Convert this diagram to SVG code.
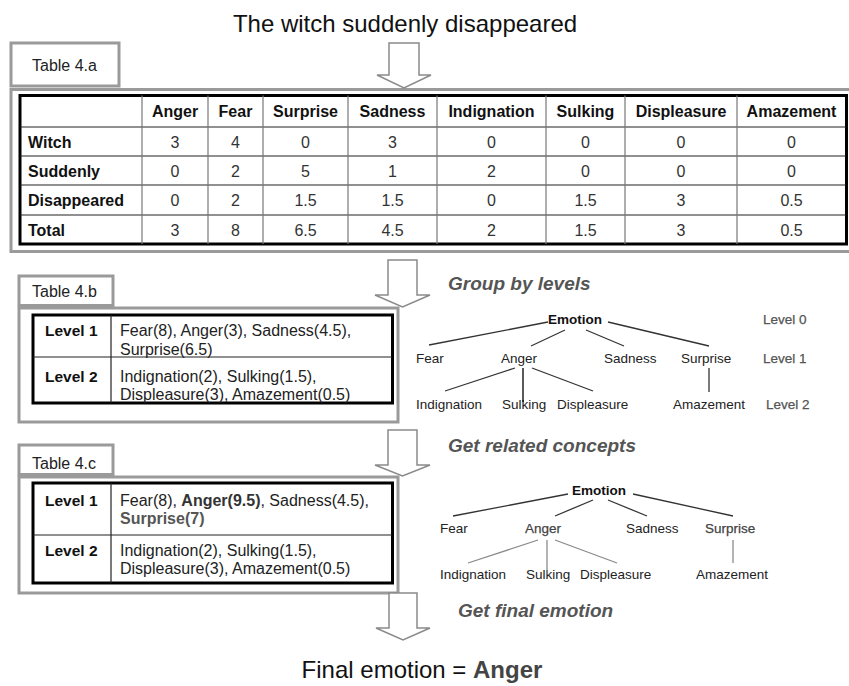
<svg xmlns="http://www.w3.org/2000/svg" width="849" height="686" viewBox="0 0 849 686">
  <style>
    text { font-family: "Liberation Sans", Arial, sans-serif; }
    .title { font-size: 24px; fill: #111; }
    .tab { fill: #fff; stroke: #9a9a9a; stroke-width: 3; }
    .frame { fill: #fff; stroke: #9a9a9a; stroke-width: 3; }
    .tbl { fill: none; stroke: #000; stroke-width: 3; }
    .hline { stroke: #222; stroke-width: 1.2; }
    .vline { stroke: #777; stroke-width: 1.2; }
    .tabtxt { font-size: 16px; fill: #222; }
    .hd { font-size: 16px; font-weight: bold; fill: #111; text-anchor: middle; }
    .rl { font-size: 16px; font-weight: bold; fill: #111; }
    .num { font-size: 16px; fill: #333; text-anchor: middle; }
    .lvl { font-size: 15.5px; font-weight: bold; fill: #111; }
    .cell { font-size: 16px; fill: #222; }
    .hot { font-weight: bold; fill: #333; }
    .hot2 { font-weight: bold; fill: #555; }
    .step { font-size: 19px; font-weight: bold; font-style: italic; fill: #555; }
    .node { font-size: 13.5px; fill: #222; }
    .node-hl { font-size: 13.5px; fill: #444; stroke: #444; stroke-width: 0.25; }
    .root { font-size: 13.5px; font-weight: bold; fill: #111; }
    .lvlname { font-size: 13.5px; fill: #555; stroke: #555; stroke-width: 0.25; }
    .arrow { fill: #fff; stroke: #8a8a8a; stroke-width: 1.5; stroke-linejoin: miter; }
    .edge { stroke: #333; stroke-width: 1.3; }
    .edge-dk { stroke: #000; stroke-width: 1.3; }
    .edge-lt { stroke: #8a8a8a; stroke-width: 1.3; }
  </style>

  <!-- input sentence -->
  <g id="sentence">
    <text class="title" x="405" y="32" text-anchor="middle">The witch suddenly disappeared</text>
  </g>

  <!-- Table 4.a : per-word emotion scores -->
  <g id="table-4a">
    <rect class="tab" x="11" y="43" width="108" height="43"/>
    <text class="tabtxt" x="32" y="71">Table 4.a</text>
    <rect class="frame" x="11" y="89.5" width="845" height="162"/>
    <rect class="tbl" x="20" y="95.5" width="826.5" height="148.5"/>
    <g>
      <line class="hline" x1="20" y1="127" x2="846" y2="127"/>
      <line class="hline" x1="20" y1="156" x2="846" y2="156"/>
      <line class="hline" x1="20" y1="185" x2="846" y2="185"/>
      <line class="hline" x1="20" y1="215" x2="846" y2="215"/>
      <line class="vline" x1="142" y1="95.5" x2="142" y2="244"/>
      <line class="vline" x1="208" y1="95.5" x2="208" y2="244"/>
      <line class="vline" x1="263" y1="95.5" x2="263" y2="244"/>
      <line class="vline" x1="348" y1="95.5" x2="348" y2="244"/>
      <line class="vline" x1="437" y1="95.5" x2="437" y2="244"/>
      <line class="vline" x1="546" y1="95.5" x2="546" y2="244"/>
      <line class="vline" x1="625" y1="95.5" x2="625" y2="244"/>
      <line class="vline" x1="737" y1="95.5" x2="737" y2="244"/>
    </g>
    <g>
      <text class="hd" x="175" y="117">Anger</text>
      <text class="hd" x="235.5" y="117">Fear</text>
      <text class="hd" x="305.5" y="117">Surprise</text>
      <text class="hd" x="392.5" y="117">Sadness</text>
      <text class="hd" x="491.5" y="117">Indignation</text>
      <text class="hd" x="585.5" y="117">Sulking</text>
      <text class="hd" x="681" y="117">Displeasure</text>
      <text class="hd" x="791.5" y="117">Amazement</text>
    </g>
    <g>
      <text class="rl" x="28" y="147.5">Witch</text>
      <text class="rl" x="28" y="176.5">Suddenly</text>
      <text class="rl" x="28" y="206">Disappeared</text>
      <text class="rl" x="28" y="235.5">Total</text>
    </g>
    <g>
      <text class="num" x="175" y="147.5">3</text>
      <text class="num" x="235.5" y="147.5">4</text>
      <text class="num" x="305.5" y="147.5">0</text>
      <text class="num" x="392.5" y="147.5">3</text>
      <text class="num" x="491.5" y="147.5">0</text>
      <text class="num" x="585.5" y="147.5">0</text>
      <text class="num" x="681" y="147.5">0</text>
      <text class="num" x="791.5" y="147.5">0</text>

      <text class="num" x="175" y="176.5">0</text>
      <text class="num" x="235.5" y="176.5">2</text>
      <text class="num" x="305.5" y="176.5">5</text>
      <text class="num" x="392.5" y="176.5">1</text>
      <text class="num" x="491.5" y="176.5">2</text>
      <text class="num" x="585.5" y="176.5">0</text>
      <text class="num" x="681" y="176.5">0</text>
      <text class="num" x="791.5" y="176.5">0</text>

      <text class="num" x="175" y="206">0</text>
      <text class="num" x="235.5" y="206">2</text>
      <text class="num" x="305.5" y="206">1.5</text>
      <text class="num" x="392.5" y="206">1.5</text>
      <text class="num" x="491.5" y="206">0</text>
      <text class="num" x="585.5" y="206">1.5</text>
      <text class="num" x="681" y="206">3</text>
      <text class="num" x="791.5" y="206">0.5</text>

      <text class="num" x="175" y="235.5">3</text>
      <text class="num" x="235.5" y="235.5">8</text>
      <text class="num" x="305.5" y="235.5">6.5</text>
      <text class="num" x="392.5" y="235.5">4.5</text>
      <text class="num" x="491.5" y="235.5">2</text>
      <text class="num" x="585.5" y="235.5">1.5</text>
      <text class="num" x="681" y="235.5">3</text>
      <text class="num" x="791.5" y="235.5">0.5</text>
    </g>
  </g>

  <!-- Table 4.b : totals grouped by level -->
  <g id="table-4b">
    <rect class="tab" x="19" y="276" width="94" height="29.5"/>
    <text class="tabtxt" x="32" y="297">Table 4.b</text>
    <rect class="frame" x="19" y="308" width="379" height="114"/>
    <rect class="tbl" x="33" y="315" width="359.5" height="88"/>
    <line class="hline" x1="33" y1="357" x2="392" y2="357"/>
    <line class="hline" x1="111" y1="315" x2="111" y2="403"/>
    <text class="lvl" x="45" y="336">Level 1</text>
    <text class="cell" x="120" y="336">Fear(8), Anger(3), Sadness(4.5),</text>
    <text class="cell" x="120" y="355">Surprise(6.5)</text>
    <text class="lvl" x="45" y="382">Level 2</text>
    <text class="cell" x="120" y="382">Indignation(2), Sulking(1.5),</text>
    <text class="cell" x="120" y="400">Displeasure(3), Amazement(0.5)</text>
  </g>

  <!-- Table 4.c : scores after adding related concepts -->
  <g id="table-4c">
    <rect class="tab" x="19" y="445" width="94" height="29.5"/>
    <text class="tabtxt" x="32" y="469">Table 4.c</text>
    <rect class="frame" x="19" y="477" width="379" height="116"/>
    <rect class="tbl" x="33" y="483" width="359.5" height="100"/>
    <line class="hline" x1="33" y1="535" x2="392" y2="535"/>
    <line class="hline" x1="111" y1="483" x2="111" y2="583"/>
    <text class="lvl" x="45" y="506">Level 1</text>
    <text class="cell" x="120" y="506">Fear(8), <tspan class="hot">Anger(9.5)</tspan>,  Sadness(4.5),</text>
    <text class="cell" x="120" y="524"><tspan class="hot2">Surprise(7)</tspan></text>
    <text class="lvl" x="45" y="556">Level 2</text>
    <text class="cell" x="120" y="556">Indignation(2), Sulking(1.5),</text>
    <text class="cell" x="120" y="574">Displeasure(3), Amazement(0.5)</text>
  </g>

  <!-- step labels -->
  <g id="step-group">
    <text class="step" x="448" y="290">Group by levels</text>
  </g>
  <g id="step-related">
    <text class="step" x="448" y="452">Get related concepts</text>
  </g>
  <g id="step-final">
    <text class="step" x="458" y="617">Get final emotion</text>
  </g>

  <!-- emotion hierarchy, grouped by level -->
  <g id="tree-levels">
    <text class="root" x="548" y="324">Emotion</text>
    <text class="node" x="416" y="363">Fear</text>
    <text class="node" x="501" y="363">Anger</text>
    <text class="node" x="604" y="363">Sadness</text>
    <text class="node" x="681" y="363">Surprise</text>
    <text class="node" x="416" y="409">Indignation</text>
    <text class="node" x="502" y="409">Sulking</text>
    <text class="node" x="557" y="409">Displeasure</text>
    <text class="node" x="673" y="409">Amazement</text>
    <text class="lvlname" x="763" y="324">Level 0</text>
    <text class="lvlname" x="763" y="363">Level 1</text>
    <text class="lvlname" x="766" y="409">Level 2</text>
  </g>

  <!-- emotion hierarchy with related concepts -->
  <g id="tree-related">
    <text class="root" x="572" y="495">Emotion</text>
    <text class="node" x="440" y="533">Fear</text>
    <text class="node-hl" x="525" y="533">Anger</text>
    <text class="node" x="626" y="533">Sadness</text>
    <text class="node-hl" x="705" y="533">Surprise</text>
    <text class="node" x="440" y="579">Indignation</text>
    <text class="node" x="526" y="579">Sulking</text>
    <text class="node" x="580" y="579">Displeasure</text>
    <text class="node" x="696" y="579">Amazement</text>
  </g>

  <!-- result -->
  <g id="result">
    <text class="title" x="422" y="678" text-anchor="middle">Final emotion = <tspan font-weight="bold" fill="#444">Anger</tspan></text>
  </g>

  <!-- connectors: flow arrows and tree edges -->
  <g id="connectors">
    <polygon class="arrow" points="389,43 419,43 419,75 431,75 404,88 377,75 389,75"/>
    <polygon class="arrow" points="388,260 417,260 417,295 430,295 402.5,307 375,295 388,295"/>
    <polygon class="arrow" points="388,430 417,430 417,465 430,465 402.5,476 375,465 388,465"/>
    <polygon class="arrow" points="389,593 417,593 417,628 430,628 403,640 376,628 389,628"/>

    <line class="edge" x1="548" y1="322" x2="429" y2="345"/>
    <line class="edge" x1="565" y1="330" x2="531" y2="346"/>
    <line class="edge" x1="586" y1="330" x2="624" y2="346"/>
    <line class="edge" x1="608" y1="322" x2="709" y2="346"/>
    <line class="edge" x1="515" y1="368" x2="445" y2="391"/>
    <line class="edge-dk" x1="523" y1="368" x2="523" y2="402"/>
    <line class="edge" x1="532" y1="368" x2="593" y2="391"/>
    <line class="edge" x1="709" y1="368" x2="709" y2="392"/>

    <line class="edge" x1="568" y1="494" x2="453" y2="516"/>
    <line class="edge" x1="593" y1="500" x2="555" y2="516"/>
    <line class="edge" x1="608" y1="500" x2="647" y2="516"/>
    <line class="edge" x1="633" y1="494" x2="733" y2="516"/>
    <line class="edge-lt" x1="538" y1="540" x2="468" y2="563"/>
    <line class="edge-lt" x1="547" y1="540" x2="547" y2="574"/>
    <line class="edge-lt" x1="555" y1="540" x2="617" y2="563"/>
    <line class="edge-lt" x1="733" y1="540" x2="733" y2="563"/>
  </g>
</svg>
